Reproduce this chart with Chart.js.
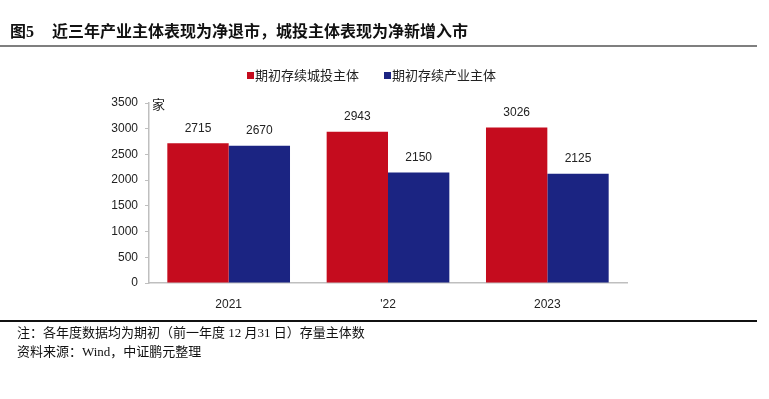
<!DOCTYPE html>
<html>
<head>
<meta charset="utf-8">
<script src="https://cdn.jsdelivr.net/npm/chart.js@4/dist/chart.umd.min.js"></script>
<style>
  body { margin: 0; background: #fff; }
  #wrap { position: relative; width: 769px; height: 399px; overflow: hidden; }
  #chartBox { position: absolute; left: 0; top: 0; width: 769px; height: 399px; }
  .title { position: absolute; left: 10px; top: 18px; font: bold 16px "Liberation Serif", "Noto Sans CJK SC", serif; color: #111; white-space: nowrap; }
  .title span { margin-left: 18px; }
  .line1 { position: absolute; left: 0; top: 45px; width: 757px; height: 2px; background: #7f7f7f; }
  .line2 { position: absolute; left: 0; top: 320px; width: 757px; height: 2px; background: #111; }
  .note { position: absolute; left: 17px; font: 13px "Liberation Serif", "Noto Sans CJK SC", serif; color: #111; white-space: nowrap; }
</style>
</head>
<body>
<div id="wrap">
  <div id="chartBox"><canvas id="grafico"></canvas></div>
  <div class="title">图5<span>近三年产业主体表现为净退市，城投主体表现为净新增入市</span></div>
  <div class="line1"></div>
  <div class="line2"></div>
  <div class="note" style="top:322px">注：各年度数据均为期初（前一年度 12 月31 日）存量主体数</div>
  <div class="note" style="top:341px">资料来源：Wind，中证鹏元整理</div>
</div>
<script>
var categorias = ['2021', '\'22', '2023'];
var cheTou = [2715, 2943, 3026];      // 期初存续城投主体
var chanYe = [2670, 2150, 2125];      // 期初存续产业主体
var nombres = ['期初存续城投主体', '期初存续产业主体'];
var colores = ['#C50C1E', '#1B2482'];
var yTicks = [0, 500, 1000, 1500, 2000, 2500, 3000, 3500];

// valores encima de las barras + leyenda + unidad
var extras = {
    id: 'extras',
    afterDatasetsDraw: function(chart) {
        var ctx = chart.ctx;
        ctx.save();
        ctx.fillStyle = '#222';
        ctx.font = '12px "Liberation Sans", Arial, sans-serif';
        ctx.textAlign = 'center';
        ctx.textBaseline = 'middle';
        chart.data.datasets.forEach(function(ds, i) {
            chart.getDatasetMeta(i).data.forEach(function(bar, j) {
                ctx.fillText(ds.data[j], bar.x, bar.y - 15);
            });
        });
        // unidad
        ctx.font = '13px "Noto Sans CJK SC", sans-serif';
        ctx.textAlign = 'left';
        ctx.fillText('家', chart.chartArea.left + 3, chart.chartArea.top + 1);
        // leyenda
        var pos = [247, 384];
        chart.data.datasets.forEach(function(ds, i) {
            ctx.fillStyle = ds.backgroundColor;
            ctx.fillRect(pos[i], 72, 7, 7);
            ctx.fillStyle = '#222';
            ctx.fillText(ds.label, pos[i] + 8, 75.5);
        });
        ctx.restore();
    }
};

var ctx = document.getElementById('grafico').getContext('2d');
var myChart = new Chart(ctx, {
    type: 'bar',
    data: {
        labels: categorias,
        datasets: [
            { label: nombres[0], data: cheTou, backgroundColor: colores[0], categoryPercentage: 0.77, barPercentage: 1.0 },
            { label: nombres[1], data: chanYe, backgroundColor: colores[1], categoryPercentage: 0.77, barPercentage: 1.0 }
        ]
    },
    options: {
        responsive: true,
        maintainAspectRatio: false,
        animation: false,
        layout: { padding: { top: 103, right: 142, bottom: 0, left: 0 } },
        plugins: {
            legend: { display: false },
            tooltip: { enabled: false }
        },
        scales: {
            x: {
                grid: { display: false },
                border: { color: '#bfbfbf', width: 1.5 },
                ticks: { color: '#222', font: { family: '"Liberation Sans", Arial, sans-serif', size: 12 }, padding: 6 },
                afterFit: function(s) { s.height = 116; }
            },
            y: {
                min: 0,
                max: 3500,
                afterBuildTicks: function(s) { s.ticks = yTicks.map(function(v) { return { value: v }; }); },
                grid: { drawOnChartArea: false, tickLength: 4, color: '#bfbfbf' },
                border: { color: '#bfbfbf', width: 1.5 },
                ticks: {
                    color: '#222',
                    font: { family: '"Liberation Sans", Arial, sans-serif', size: 12 },
                    padding: 7,
                    callback: function(v) { return String(v); }
                },
                afterFit: function(s) { s.width = 149; }
            }
        }
    },
    plugins: [extras]
});
</script>
</body>
</html>
